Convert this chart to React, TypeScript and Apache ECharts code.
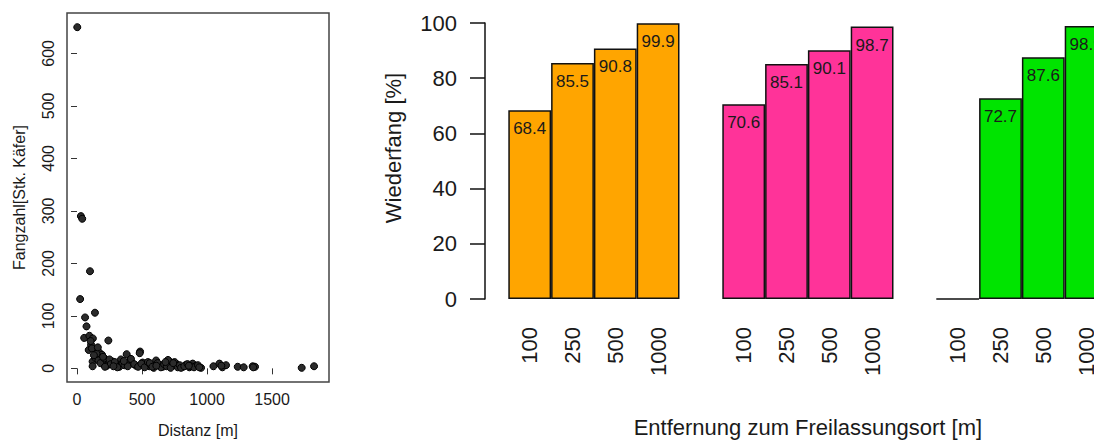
import React, { useEffect, useRef } from "react";
import * as echarts from "echarts";

// ---- scatter data (left panel) ----
const distanz = [
  2, 30, 40, 100, 24, 62, 138, 73, 55, 95, 122, 241, 108, 90, 146, 172, 192, 159, 382, 485,
  482, 338, 120, 197, 223, 120, 274, 300, 326, 402, 428, 454, 505, 531, 556, 608, 633, 659, 710, 736,
  762, 813, 838, 864, 890, 915, 954, 1049, 1095, 1118, 1146, 1236, 1282, 1351, 1369, 1728, 1823, 140, 150, 165,
  180, 210, 230, 250, 260, 290, 310, 350, 365, 390, 415, 440, 470, 495, 520, 545, 570, 590, 620, 645,
  670, 690, 700, 720, 750, 775, 790, 800, 825, 850, 875, 900, 930, 940, 105, 115, 130, 160, 200, 215,
  280, 360, 560, 680, 1110, 1355, 580, 740, 860, 610,
];
const fangzahl = [
  650, 290, 285, 185, 132, 97, 106, 80, 58, 62, 57, 53, 45, 35, 36, 30, 26, 23, 27, 32,
  29, 17, 13, 15, 10, 4, 13, 7, 3, 13, 9, 5, 11, 7, 4, 15, 7, 3, 13, 5,
  9, 3, 7, 2, 9, 5, 1, 4, 9, 2, 6, 3, 2, 4, 3, 1, 4, 20, 28, 15,
  10, 19, 5, 17, 8, 12, 2, 10, 6, 4, 18, 8, 3, 9, 2, 12, 6, 1, 10, 2,
  8, 4, 16, 1, 12, 2, 6, 1, 4, 8, 4, 2, 6, 2, 52, 38, 25, 40, 22, 3,
  4, 14, 10, 12, 5, 2, 3, 10, 5, 5,
];
const scatterXTicks = [0, 500, 1000, 1500];
const scatterYTicks = [0, 100, 200, 300, 400, 500, 600];

// ---- bar data (right panel) ----
const entfernung = ["100", "250", "500", "1000"];
const orangeVals = [68.4, 85.5, 90.8, 99.9];
const pinkVals = [70.6, 85.1, 90.1, 98.7];
const greenVals = [0, 72.7, 87.6, 98.9];
const groupColors = ["#FFA500", "#FF3399", "#00E400"];

const FONT = "'Liberation Sans', Arial, Helvetica, sans-serif";
const TXT = "#1a1a1a";

export default function App() {
  const ref = useRef<HTMLDivElement>(null);
  useEffect(() => {
    if (!ref.current) return;
    const chart = echarts.init(ref.current, undefined, { renderer: "svg" });

    const groups = [orangeVals, pinkVals, greenVals];
    const cats: string[] = [];
    const barData: any[] = [];
    groups.forEach((vals, gi) => {
      if (gi > 0) {
        cats.push(`gap${gi}|`);
        barData.push(null);
      }
      entfernung.forEach((c, i) => {
        cats.push(`g${gi}|${c}`);
        barData.push({ value: vals[i], itemStyle: { color: groupColors[gi] } });
      });
    });

    const scatterData = distanz.map((d, i) => [d, fangzahl[i]]);

    chart.setOption({
      animation: false,
      textStyle: { fontFamily: FONT },
      grid: [
        { left: 67, top: 13, width: 262, height: 369, show: true, borderColor: "#444", borderWidth: 1.5, backgroundColor: "transparent" },
        { left: 508.3, top: 23, width: 599.2, height: 279 },
      ],
      xAxis: [
        {
          gridIndex: 0,
          type: "value",
          min: -77,
          max: 1938,
          name: "Distanz [m]",
          nameLocation: "middle",
          nameGap: 40,
          nameTextStyle: { fontSize: 16, color: TXT, fontFamily: FONT },
          axisLine: { show: false },
          splitLine: { show: false },
          axisTick: { show: true, length: 6, customValues: scatterXTicks, lineStyle: { color: "#333" } },
          axisLabel: {
            customValues: scatterXTicks,
            fontSize: 16,
            color: TXT,
            margin: 9,
            fontFamily: FONT,
            formatter: (v: number) => String(v),
          },
        },
        {
          gridIndex: 1,
          type: "category",
          data: cats,
          axisLine: { show: false },
          axisTick: { show: false },
          splitLine: { show: false },
          axisLabel: {
            interval: 0,
            rotate: 90,
            margin: 28,
            fontSize: 22,
            color: TXT,
            fontFamily: FONT,
            formatter: (v: string) => v.split("|")[1],
          },
          name: "Entfernung zum Freilassungsort [m]",
          nameLocation: "middle",
          nameGap: 117,
          nameTextStyle: { fontSize: 22, color: TXT, fontFamily: FONT },
        },
      ],
      yAxis: [
        {
          gridIndex: 0,
          type: "value",
          min: -26,
          max: 677,
          name: "Fangzahl[Stk. Käfer]",
          nameLocation: "middle",
          nameGap: 40,
          nameRotate: 90,
          nameTextStyle: { fontSize: 16, color: TXT, fontFamily: FONT },
          axisLine: { show: false },
          splitLine: { show: false },
          axisTick: { show: true, length: 6, customValues: scatterYTicks, lineStyle: { color: "#333" } },
          axisLabel: {
            customValues: scatterYTicks,
            rotate: 90,
            fontSize: 16,
            color: TXT,
            margin: 11,
            fontFamily: FONT,
            formatter: (v: number) => String(v),
          },
        },
        {
          gridIndex: 1,
          type: "value",
          min: 0,
          max: 100,
          interval: 20,
          offset: 23.3,
          axisLine: { show: true, lineStyle: { color: "#111", width: 1.5 } },
          axisTick: { show: true, length: 15, lineStyle: { color: "#111", width: 1.5 } },
          splitLine: { show: false },
          axisLabel: { fontSize: 22, color: TXT, margin: 28, fontFamily: FONT },
        },
      ],
      graphic: [
        {
          type: "text",
          x: 393,
          y: 148,
          rotation: Math.PI / 2,
          style: {
            text: "Wiederfang [%]",
            fontSize: 22,
            fontFamily: FONT,
            fill: TXT,
            align: "center",
            verticalAlign: "middle",
            textAlign: "center",
            textVerticalAlign: "middle",
          },
        },
      ],
      series: [
        {
          type: "scatter",
          xAxisIndex: 0,
          yAxisIndex: 0,
          data: scatterData,
          symbolSize: 7,
          itemStyle: { color: "#2b2b2b", borderColor: "#000", borderWidth: 1, opacity: 1 },
        },
        {
          type: "bar",
          xAxisIndex: 1,
          yAxisIndex: 1,
          data: barData,
          barWidth: "100%",
          barCategoryGap: 0,
          itemStyle: { borderColor: "#111", borderWidth: 1.5 },
          label: {
            show: true,
            position: "insideTop",
            distance: 10,
            fontSize: 17,
            color: TXT,
            fontFamily: FONT,
            formatter: (p: any) => (p.value ? String(p.value) : ""),
          },
        },
      ],
    });
    return () => chart.dispose();
  }, []);
  return (
    <div style={{ position: "fixed", left: 0, top: 0, width: 1094, height: 443, overflow: "hidden", background: "#fff" }}>
      <div ref={ref} style={{ width: 1120, height: 443 }} />
    </div>
  );
}
